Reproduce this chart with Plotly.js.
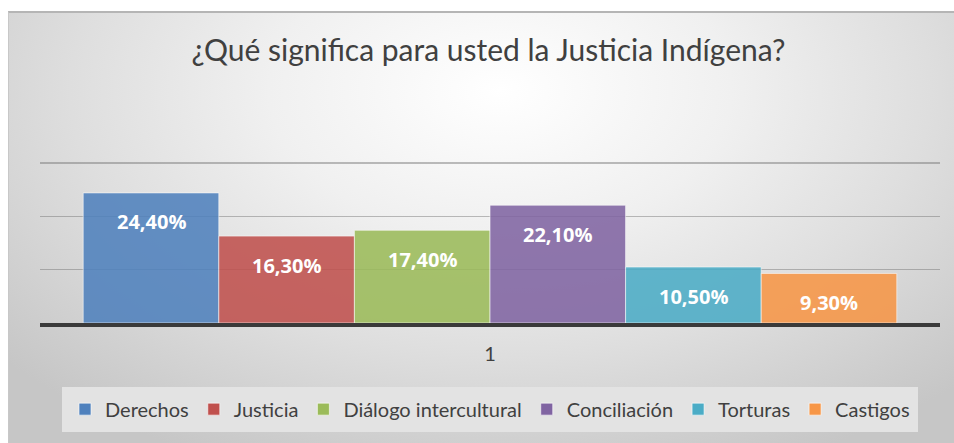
<!DOCTYPE html>
<html>
<head>
<meta charset="utf-8">
<script src="https://cdn.plot.ly/plotly-3.0.1.min.js"></script>
<style>
html,body{margin:0;padding:0;background:#fff;width:954px;height:443px;overflow:hidden;}
#bg{position:absolute;left:8px;top:11px;width:946px;height:432px;border-top:2px solid #b5b5b5;border-left:1px solid #c8c8c8;box-sizing:border-box;
background:radial-gradient(ellipse 70% 95% at 52% 18%, #ffffff 0%, #f0f0f0 35%, #dedede 65%, #c6c6c6 100%);}
#chart{position:absolute;left:0;top:0;width:954px;height:443px;}
</style>
</head>
<body>
<div id="bg"></div>
<div id="chart"></div>
<script>
const categories = ['1'];
const seriesNames = ['Derechos', 'Justicia', 'Diálogo intercultural', 'Conciliación', 'Torturas', 'Castigos'];
const seriesValues = [0.244, 0.163, 0.174, 0.221, 0.105, 0.093];
const seriesColors = ['#4f81bd', '#c0504d', '#9bbb59', '#8064a2', '#4bacc6', '#f79646'];
const titleText = '¿Qué significa para usted la Justicia Indígena?';

const BARGAP = 0.096;
const nSeries = seriesNames.length;

const traces = seriesNames.map((name, i) => ({
  type: 'bar',
  name: name,
  x: categories,
  y: [seriesValues[i]],
  marker: {color: seriesColors[i], opacity: 0.87, line: {color: 'rgba(255,255,255,0.6)', width: 1}},
  hoverinfo: 'none'
}));

const fmt = v => (v * 100).toFixed(2).replace('.', ',') + '%';
const slot = (1 - BARGAP) / nSeries;
const annotations = seriesValues.map((v, i) => ({
  xref: 'x', yref: 'y',
  x: (i - (nSeries - 1) / 2) * slot,
  y: v,
  yshift: -29,
  text: '<b>' + fmt(v) + '</b>',
  showarrow: false,
  font: {family: 'Open Sans', size: 20, color: '#ffffff'},
  xanchor: 'center', yanchor: 'middle'
}));

const layout = {
  width: 954, height: 443,
  paper_bgcolor: 'rgba(0,0,0,0)',
  plot_bgcolor: 'rgba(0,0,0,0)',
  margin: {l: 40, r: 14, t: 162, b: 117},
  title: {text: titleText, font: {family: 'Lato', size: 30, color: '#404040'}, x: 0.512, xanchor: 'center', y: 0.887, yanchor: 'middle'},
  barmode: 'group',
  bargap: BARGAP,
  bargroupgap: 0,
  showlegend: true,
  legend: {orientation: 'h', x: 0.5, xanchor: 'center', y: -0.535, yanchor: 'middle',
    bgcolor: '#e3e3e3', bordercolor: '#e3e3e3', borderwidth: 3,
    font: {family: 'Lato', size: 20, color: '#404040'},
    traceorder: 'normal', itemwidth: 30},
  annotations: annotations,
  xaxis: {type: 'category', showline: true, linecolor: '#3a3a3a', linewidth: 4, showgrid: false, ticks: '',
    tickfont: {family: 'Lato', size: 20, color: '#404040'}, ticklabelstandoff: 10, fixedrange: true},
  yaxis: {range: [0, 0.302], dtick: 0.1, showticklabels: false, gridcolor: 'rgba(110,110,110,0.45)', gridwidth: 1.5,
    zeroline: false, fixedrange: true}
};

Plotly.newPlot('chart', traces, layout, {displayModeBar: false, staticPlot: true});
</script>
</body>
</html>
